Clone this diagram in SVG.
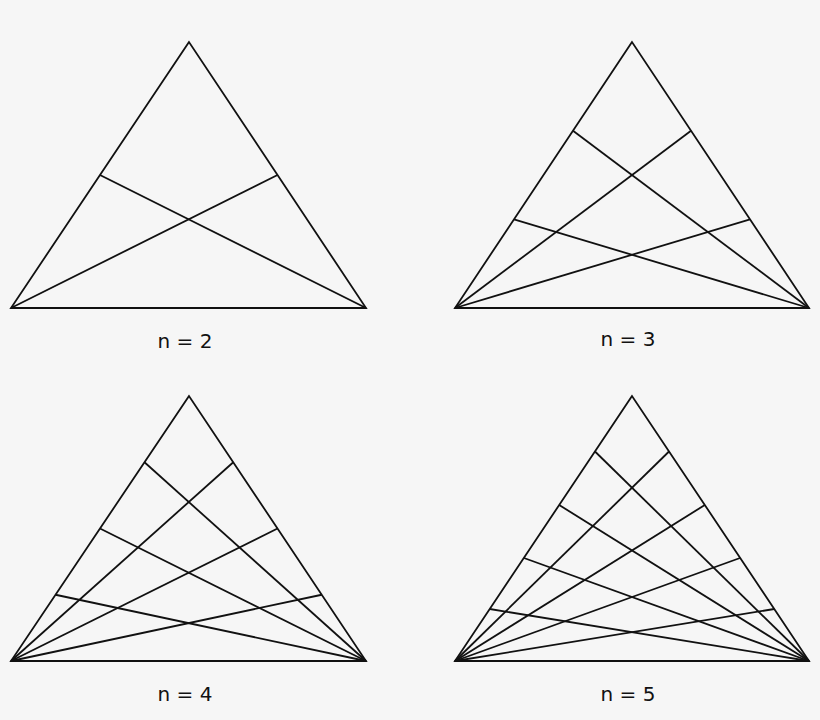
<svg xmlns="http://www.w3.org/2000/svg" width="820" height="720" viewBox="0 0 820 720">
<style>
.t{fill:none;stroke:#111;stroke-width:1.8;stroke-linejoin:miter}
.c{fill:none;stroke:#111;stroke-width:1.8}
.l{font-family:"DejaVu Sans",sans-serif;font-size:20px;fill:#111;text-anchor:middle}
</style>
<rect width="820" height="720" fill="#f6f6f6"/>
<g id="tri-n2">
<polygon class="t" points="189,42 11,308 366,308"/>
<g class="c">
<line x1="11" y1="308" x2="277.5" y2="175"/>
<line x1="366" y1="308" x2="100" y2="175"/>
</g>
<text class="l" x="185" y="348">n = 2</text>
</g>
<g id="tri-n3">
<polygon class="t" points="632,42 455,308 809,308"/>
<g class="c">
<line x1="455" y1="308" x2="691" y2="130.7"/>
<line x1="455" y1="308" x2="750" y2="219.3"/>
<line x1="809" y1="308" x2="573" y2="130.7"/>
<line x1="809" y1="308" x2="514" y2="219.3"/>
</g>
<text class="l" x="628" y="346">n = 3</text>
</g>
<g id="tri-n4">
<polygon class="t" points="189,396 11,661 366,661"/>
<g class="c">
<line x1="11" y1="661" x2="233.25" y2="462.25"/>
<line x1="11" y1="661" x2="277.5" y2="528.5"/>
<line x1="11" y1="661" x2="321.75" y2="594.75"/>
<line x1="366" y1="661" x2="144.5" y2="462.25"/>
<line x1="366" y1="661" x2="100" y2="528.5"/>
<line x1="366" y1="661" x2="55.5" y2="594.75"/>
</g>
<text class="l" x="185" y="701">n = 4</text>
</g>
<g id="tri-n5">
<polygon class="t" points="632,396 455,661 809,661"/>
<g class="c">
<line x1="455" y1="661" x2="669" y2="451.5"/>
<line x1="455" y1="661" x2="704.8" y2="505"/>
<line x1="455" y1="661" x2="740" y2="558"/>
<line x1="455" y1="661" x2="774.2" y2="609"/>
<line x1="809" y1="661" x2="595" y2="451.5"/>
<line x1="809" y1="661" x2="559.2" y2="505"/>
<line x1="809" y1="661" x2="524" y2="558"/>
<line x1="809" y1="661" x2="489.8" y2="609"/>
</g>
<text class="l" x="628" y="701">n = 5</text>
</g>
</svg>
